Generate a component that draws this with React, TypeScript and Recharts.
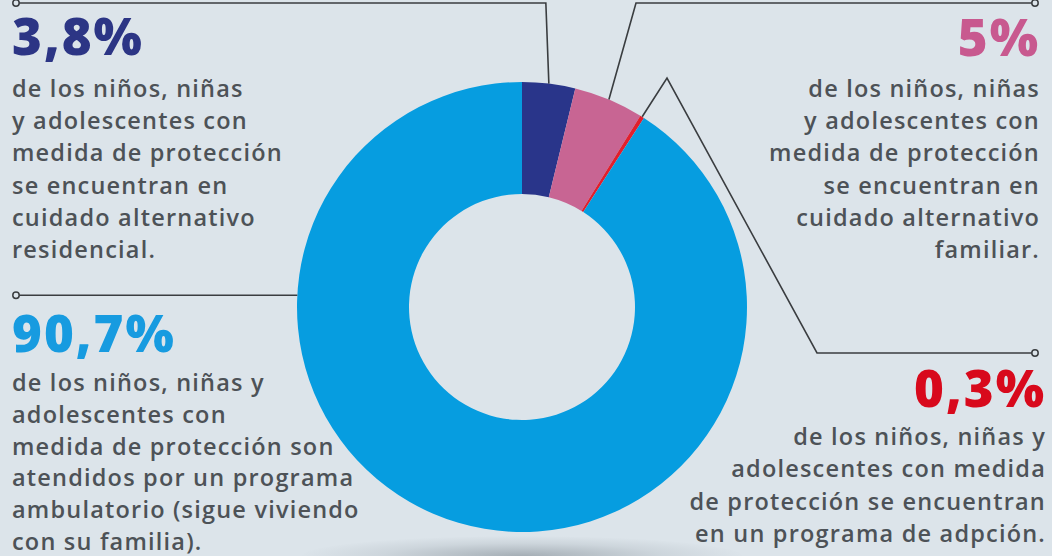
import React from 'react';
import { PieChart, Pie, Cell } from 'recharts';

// shares of children under protection measures, clockwise from 12 o'clock
const SEGMENTS = ['Residencial', 'Familiar', 'Adopción', 'Ambulatorio'];
const SHARES = [3.8, 5, 0.3, 90.7];
const PERCENT_LABELS = ['3,8%', '5%', '0,3%', '90,7%'];
const DESCRIPTIONS = [
  ['de los niños, niñas', 'y adolescentes con', 'medida de protección', 'se encuentran en', 'cuidado alternativo', 'residencial.'],
  ['de los niños, niñas', 'y adolescentes con', 'medida de protección', 'se encuentran en', 'cuidado alternativo', 'familiar.'],
  ['de los niños, niñas y', 'adolescentes con medida', 'de protección se encuentran', 'en un programa de adpción.'],
  ['de los niños, niñas y', 'adolescentes con', 'medida de protección son', 'atendidos por un programa', 'ambulatorio (sigue viviendo', 'con su familia).'],
];

const data = SEGMENTS.map((name, i) => ({ name, value: SHARES[i] }));

const SLICE_COLORS = ['#29358a', '#c86593', '#e11f2d', '#069de0'];
const TEXT_COLORS = ['#2c3585', '#c8598f', '#d8091c', '#179be0'];
const BG = '#dce4ea';
const LINE = '#3a3d40';
const BODY = '#4d5257';

const W = 1052;
const H = 556;
const CX = 522;
const CY = 307;
const RAD = Math.PI / 180;

// text block placement
const BLOCKS = [
  { x: 12, anchor: 'start', head: 55, body: 97, step: 32.2 },
  { x: 1040, anchor: 'end', head: 56, body: 97, step: 32.2 },
  { x: 1046, anchor: 'end', head: 407, body: 445, step: 32.3 },
  { x: 12, anchor: 'start', head: 352, body: 391, step: 31.8 },
];

const polar = (cx: number, cy: number, r: number, angle: number) => ({
  x: cx + r * Math.cos(-angle * RAD),
  y: cy + r * Math.sin(-angle * RAD),
});

const renderConnector = (props: any) => {
  const { cx, cy, outerRadius, midAngle, index } = props;
  let pts: { x: number; y: number }[] = [];
  if (index === 3) {
    const p = polar(cx, cy, outerRadius, 177);
    pts = [p, { x: 16, y: p.y }];
  } else {
    const p = polar(cx, cy, outerRadius, midAngle);
    if (index === 0) pts = [p, { x: p.x - 3, y: 3 }, { x: 16, y: 3 }];
    if (index === 1) pts = [p, { x: 636, y: 3 }, { x: 1035, y: 3 }];
    if (index === 2) pts = [p, { x: 667, y: 78 }, { x: 817, y: 353 }, { x: 1035, y: 353 }];
  }
  const end = pts[pts.length - 1];
  return (
    <g key={`conn-${index}`}>
      <polyline points={pts.map((p) => `${p.x},${p.y}`).join(' ')} fill="none" stroke={LINE} strokeWidth={1.6} />
      <circle cx={end.x} cy={end.y} r={3.2} fill={BG} stroke={LINE} strokeWidth={1.5} />
    </g>
  );
};

export default function App() {
  return (
    <div style={{ position: 'absolute', left: 0, top: 0, width: W, height: H, background: BG, overflow: 'hidden' }}>
      <div
        style={{
          position: 'absolute',
          left: CX - 220,
          top: 536,
          width: 440,
          height: 40,
          borderRadius: '50%',
          background: 'radial-gradient(ellipse at center, rgba(120,130,138,0.55) 0%, rgba(160,170,178,0.25) 45%, rgba(220,228,234,0) 72%)',
        }}
      />
      <div style={{ position: 'absolute', left: 0, top: 0 }}>
        <PieChart width={W} height={H} margin={{ top: 0, right: 0, bottom: 0, left: 0 }}>
          <Pie
            data={data}
            dataKey="value"
            nameKey="name"
            cx={CX}
            cy={CY}
            innerRadius={113}
            outerRadius={225}
            startAngle={90}
            endAngle={-270}
            stroke="none"
            label={renderConnector}
            labelLine={false}
            isAnimationActive={false}
          >
            {data.map((d, i) => (
              <Cell key={d.name} fill={SLICE_COLORS[i]} />
            ))}
          </Pie>
        </PieChart>
      </div>
      <svg width={W} height={H} style={{ position: 'absolute', left: 0, top: 0, pointerEvents: 'none' }}>
        {BLOCKS.map((b, i) => (
          <g key={i} textAnchor={b.anchor as any}>
            <text
              x={b.x}
              y={b.head}
              fill={TEXT_COLORS[i]}
              style={{ fontFamily: '"Open Sans", sans-serif', fontWeight: 800, fontSize: 51, letterSpacing: 2 }}
            >
              {PERCENT_LABELS[i]}
            </text>
            {DESCRIPTIONS[i].map((line, j) => (
              <text
                key={j}
                x={b.x}
                y={b.body + j * b.step}
                fill={BODY}
                style={{ fontFamily: '"Open Sans", sans-serif', fontWeight: 600, fontSize: 23.5, letterSpacing: 1.2 }}
              >
                {line}
              </text>
            ))}
          </g>
        ))}
      </svg>
    </div>
  );
}
